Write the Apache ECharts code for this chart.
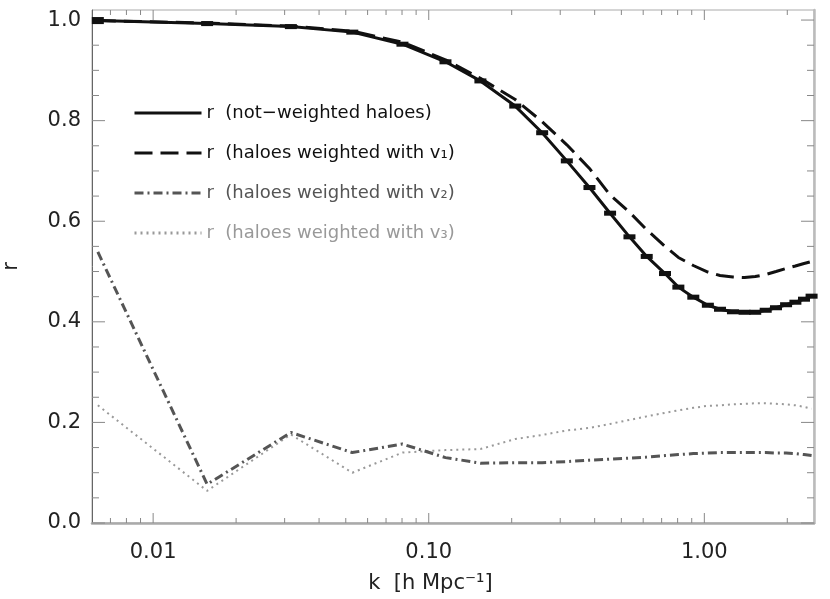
<!DOCTYPE html>
<html>
<head>
<meta charset="utf-8">
<script src="https://cdn.jsdelivr.net/npm/echarts@6/dist/echarts.min.js"></script>
<style>
  html, body { margin: 0; background: #fff; }
  #chart { width: 830px; height: 599px; }
</style>
</head>
<body>
<div id="chart"></div>
<script>
// k bins [h/Mpc] shared by all four curves
const kValues = [0.0063, 0.0157, 0.0316, 0.0528, 0.0803, 0.115, 0.154, 0.206, 0.258, 0.317,
  0.383, 0.455, 0.535, 0.618, 0.72, 0.805, 0.912, 1.03, 1.14, 1.27,
  1.40, 1.53, 1.67, 1.82, 1.98, 2.14, 2.30, 2.45]

// r, not-weighted haloes (with error bars)
const rPlain = [0.999, 0.993, 0.987, 0.976, 0.952, 0.917, 0.879, 0.829, 0.776, 0.720,
  0.667, 0.616, 0.569, 0.530, 0.496, 0.469, 0.449, 0.433, 0.425, 0.420,
  0.419, 0.419, 0.423, 0.428, 0.434, 0.439, 0.445, 0.451]
const rPlainErr = [0.007, 0.005, 0.005, 0.005, 0.005, 0.005, 0.005, 0.005, 0.005, 0.005,
  0.005, 0.005, 0.005, 0.005, 0.005, 0.005, 0.005, 0.005, 0.005, 0.005,
  0.005, 0.005, 0.005, 0.005, 0.005, 0.005, 0.005, 0.005]

// r, haloes weighted with v1
const rV1 = [0.999, 0.994, 0.988, 0.978, 0.956, 0.921, 0.884, 0.842, 0.798, 0.752,
  0.705, 0.652, 0.618, 0.583, 0.550, 0.528, 0.512, 0.499, 0.492, 0.489,
  0.488, 0.490, 0.494, 0.500, 0.506, 0.511, 0.516, 0.520]

// r, haloes weighted with v2
const rV2 = [0.539, 0.077, 0.180, 0.140, 0.157, 0.130, 0.119, 0.120, 0.120, 0.122,
  0.125, 0.127, 0.129, 0.131, 0.134, 0.136, 0.138, 0.139, 0.140, 0.140,
  0.140, 0.140, 0.140, 0.139, 0.139, 0.138, 0.136, 0.134]

// r, haloes weighted with v3
const rV3 = [0.234, 0.064, 0.176, 0.100, 0.140, 0.145, 0.147, 0.167, 0.175, 0.184,
  0.189, 0.197, 0.205, 0.212, 0.219, 0.224, 0.229, 0.233, 0.234, 0.236,
  0.237, 0.238, 0.238, 0.237, 0.236, 0.234, 0.231, 0.227]

const xMajorTicks = [0.01, 0.1, 1]
const xMinorTicks = [0.007, 0.008, 0.009, 0.02, 0.03, 0.04, 0.05, 0.06, 0.07, 0.08, 0.09,
  0.2, 0.3, 0.4, 0.5, 0.6, 0.7, 0.8, 0.9, 2]
const yMajorTicks = [0, 0.2, 0.4, 0.6, 0.8, 1.0]
const yMinorTicks = [0.05, 0.1, 0.15, 0.25, 0.3, 0.35, 0.45, 0.5, 0.55, 0.65, 0.7, 0.75,
  0.85, 0.9, 0.95]

const names = [
  'r  (not−weighted haloes)',
  'r  (haloes weighted with v₁)',
  'r  (haloes weighted with v₂)',
  'r  (haloes weighted with v₃)',
]

const font = 'DejaVu Sans'
const chart = echarts.init(document.getElementById('chart'))

function pairs(ys) {
  return kValues.map((k, i) => [k, ys[i]])
}

// inward tick marks on both sides of the frame
function tickSeries(values, dir, len) {
  return {
    type: 'custom',
    silent: true,
    z: 1,
    data: values.map(v => (dir === 'x' ? [v, 0.5] : [0.1, v])),
    renderItem(params, api) {
      const cs = params.coordSys
      const p = api.coord([api.value(0), api.value(1)])
      const mk = (x1, y1, x2, y2) => ({
        type: 'line',
        shape: { x1, y1, x2, y2 },
        style: { stroke: '#888', lineWidth: 1 },
      })
      if (dir === 'x') {
        const b = cs.y + cs.height
        return { type: 'group', children: [mk(p[0], b, p[0], b - len), mk(p[0], cs.y, p[0], cs.y + len)] }
      }
      const r = cs.x + cs.width
      return { type: 'group', children: [mk(cs.x, p[1], cs.x + len, p[1]), mk(r, p[1], r - len, p[1])] }
    },
  }
}

chart.setOption({
  backgroundColor: '#fff',
  animation: false,
  textStyle: { fontFamily: font },
  grid: {
    left: 92,
    right: 16,
    top: 10,
    bottom: 76,
    outerBoundsMode: 'none',
    containLabel: false,
    show: true,
    borderColor: '#aaa',
    borderWidth: 1,
  },
  legend: {
    orient: 'vertical',
    left: 133,
    top: 103,
    padding: 0,
    itemWidth: 67,
    itemHeight: 20,
    itemGap: 20,
    itemStyle: { opacity: 0 },
    lineStyle: { width: 3 },
    textStyle: { fontFamily: font, fontSize: 18, lineHeight: 20 },
    data: [
      { name: names[0], textStyle: { color: '#111' } },
      { name: names[1], textStyle: { color: '#111' } },
      { name: names[2], textStyle: { color: '#555' } },
      { name: names[3], textStyle: { color: '#999' } },
    ],
  },
  xAxis: {
    type: 'log',
    logBase: 10,
    min: 0.006,
    max: 2.5,
    name: 'k  [h Mpc⁻¹]',
    nameLocation: 'middle',
    nameGap: 50,
    nameTextStyle: { fontFamily: font, fontSize: 21, color: '#222', padding: [0, 45, 0, 0] },
    axisLine: { lineStyle: { color: '#aaa', width: 2.5 } },
    axisTick: { show: false },
    splitLine: { show: false },
    axisLabel: {
      margin: 19,
      fontSize: 21,
      color: '#222',
      formatter(v) {
        const l = Math.log10(v)
        return Math.abs(l - Math.round(l)) < 1e-6 ? v.toFixed(2) : ''
      },
    },
  },
  yAxis: [{
    type: 'value',
    min: 0,
    max: 1.02,
    interval: 0.2,
    name: 'r',
    nameLocation: 'middle',
    nameRotate: 90,
    nameGap: 70,
    nameTextStyle: { fontFamily: font, fontSize: 21, color: '#222' },
    axisLine: { show: true, lineStyle: { color: '#666', width: 1 } },
    axisTick: { show: false },
    splitLine: { show: false },
    axisLabel: {
      margin: 11,
      fontSize: 21,
      color: '#222',
      formatter(v) {
        return Math.abs(v * 5 - Math.round(v * 5)) < 1e-6 ? v.toFixed(1) : ''
      },
    },
  }, {
    type: 'value',
    position: 'right',
    min: 0,
    max: 1.02,
    axisLine: { show: true, lineStyle: { color: '#bbb', width: 2.5 } },
    axisTick: { show: false },
    axisLabel: { show: false },
    splitLine: { show: false },
  }],
  series: [
    tickSeries(xMajorTicks, 'x', 10),
    tickSeries(xMinorTicks, 'x', 5),
    tickSeries(yMajorTicks, 'y', 13),
    tickSeries(yMinorTicks, 'y', 7),
    {
      name: names[3],
      type: 'line',
      symbol: 'none',
      z: 2,
      data: pairs(rV3),
      lineStyle: { color: '#999', width: 2, type: [2, 4] },
      itemStyle: { color: '#999' },
    },
    {
      name: names[2],
      type: 'line',
      symbol: 'none',
      z: 3,
      data: pairs(rV2),
      lineStyle: { color: '#555', width: 3, type: [9, 4, 2, 4] },
      itemStyle: { color: '#555' },
    },
    {
      name: names[1],
      type: 'line',
      symbol: 'none',
      z: 4,
      data: pairs(rV1),
      lineStyle: { color: '#111', width: 3, type: [18, 8] },
      itemStyle: { color: '#111' },
    },
    {
      name: names[0],
      type: 'line',
      symbol: 'none',
      z: 5,
      data: pairs(rPlain),
      lineStyle: { color: '#111', width: 3 },
      itemStyle: { color: '#111' },
    },
    {
      type: 'custom',
      silent: true,
      z: 6,
      data: kValues.map((k, i) => [k, rPlain[i], rPlainErr[i]]),
      renderItem(params, api) {
        const k = api.value(0)
        const r = api.value(1)
        const e = api.value(2)
        const top = api.coord([k, r + e])
        const bot = api.coord([k, r - e])
        const h = Math.max(bot[1] - top[1], 4)
        return {
          type: 'rect',
          shape: { x: top[0] - 6, y: (top[1] + bot[1]) / 2 - h / 2, width: 12, height: h },
          style: { fill: '#111' },
        }
      },
    },
  ],
})
</script>
</body>
</html>
